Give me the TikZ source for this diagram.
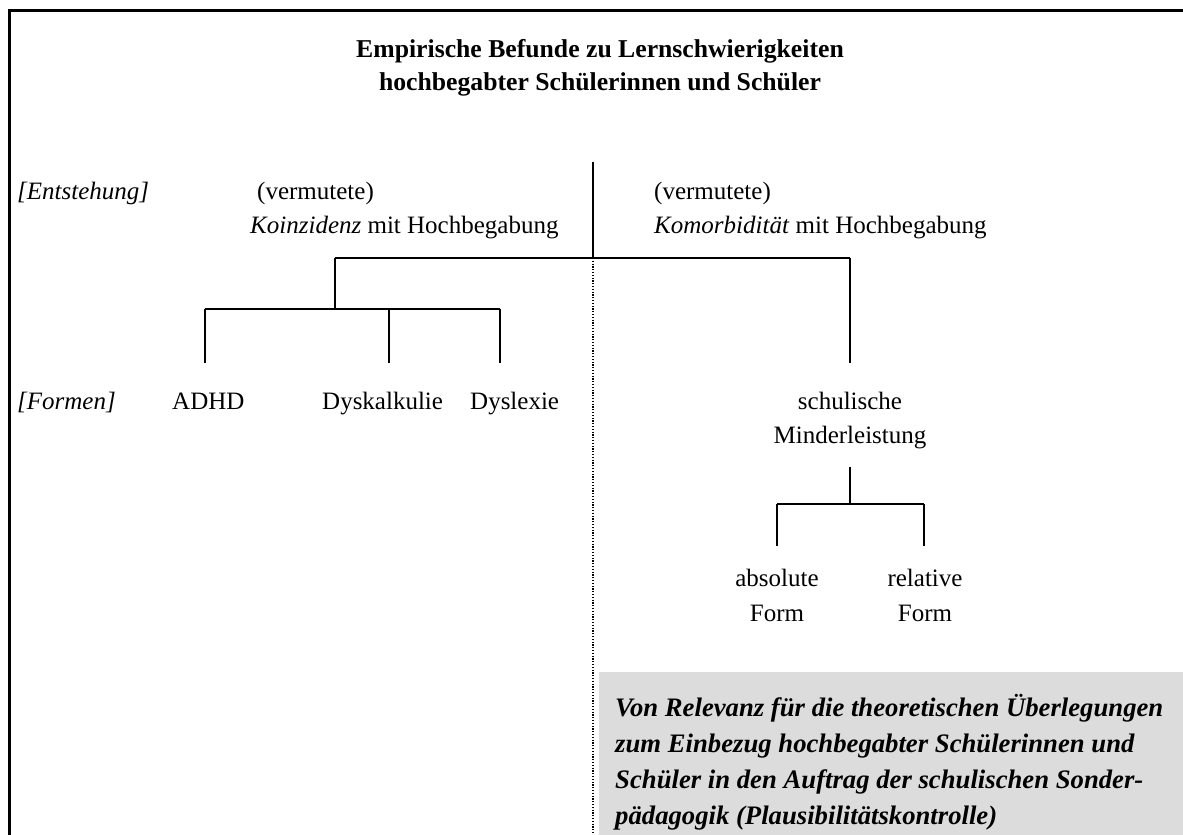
\documentclass[tikz,border=0pt]{standalone}
\usepackage{fontspec}
\setmainfont{Liberation Serif}
\definecolor{boxgray}{HTML}{DCDCDC}
\begin{document}
\begin{tikzpicture}[x=1pt,y=-1pt,
  txt/.style={inner sep=0pt, anchor=base west, font=\fontsize{25}{35}\selectfont},
  ctxt/.style={txt, anchor=base},
  ttxt/.style={ctxt, font=\fontsize{25.7}{33}\selectfont\bfseries},
  btxt/.style={txt, font=\fontsize{26.7}{36}\selectfont\bfseries\itshape},
  tree/.style={line width=1.5pt},
  frame/.style={line width=3pt},
  sep/.style={line width=1.2pt, dash pattern=on 1.2pt off 1.6pt}]
\useasboundingbox (0,0) rectangle (1183,835);

% highlighted conclusion box
\fill[boxgray] (599,672) rectangle (1183,835);

% outer frame (open towards right and bottom)
\draw[frame] (9,835) -- (9,10) -- (1183,10);

% title
\node[ttxt] (title1) at (600,57) {Empirische Befunde zu Lernschwierigkeiten};
\node[ttxt] (title2) at (600,90) {hochbegabter Schülerinnen und Schüler};

% row labels
\node[txt] (lEnt) at (17,199) {\itshape [Entstehung]};
\node[txt] (lFor) at (17,409) {\itshape [Formen]};

% origins
\node[txt] (verm1) at (257,199) {(vermutete)};
\node[txt] (koinz) at (250,233) {\textit{Koinzidenz} mit Hochbegabung};
\node[txt] (verm2) at (654,199) {(vermutete)};
\node[txt] (komor) at (654,233) {\textit{Komorbidität} mit Hochbegabung};

% forms
\node[txt] (adhd) at (172,409) {ADHD};
\node[txt] (dyska) at (322,409) {Dyskalkulie};
\node[txt] (dysle) at (470,409) {Dyslexie};
\node[ctxt] (schul) at (850,409) {schulische};
\node[ctxt] (minder) at (850,443) {Minderleistung};
\node[ctxt] (abs) at (777,586) {absolute};
\node[ctxt] (absF) at (777,621) {Form};
\node[ctxt] (rel) at (925,586) {relative};
\node[ctxt] (relF) at (925,621) {Form};

% conclusion text
\node[btxt] (c1) at (615,716) {Von Relevanz für die theoretischen Überlegungen};
\node[btxt] (c2) at (615,752) {zum Einbezug hochbegabter Schülerinnen und};
\node[btxt] (c3) at (615,788) {Schüler in den Auftrag der schulischen Sonder-};
\node[btxt] (c4) at (615,824) {pädagogik (Plausibilitätskontrolle)};

% junction points of the tree
\coordinate (divTop) at (593,162);
\coordinate (divMid) at (593,258);
\coordinate (divBot) at (593,835);
\coordinate (hL) at (335,258);
\coordinate (hR) at (850,258);
\coordinate (lJ) at (335,309);
\coordinate (lA) at (205,309);
\coordinate (lB) at (389,309);
\coordinate (lC) at (500,309);
\coordinate (lAe) at (205,363);
\coordinate (lBe) at (389,363);
\coordinate (lCe) at (500,363);
\coordinate (rE) at (850,363);
\coordinate (mTop) at (850,467);
\coordinate (mJ) at (850,504);
\coordinate (mA) at (777,504);
\coordinate (mB) at (924,504);
\coordinate (mAe) at (777,546);
\coordinate (mBe) at (924,546);

% divider between the two origins
\draw[tree] (divTop) -- (divMid);
\draw[sep] (divMid) -- (divBot);

% main branch
\draw[tree] (hL) -- (hR);
\draw[tree] (hL) -- (lJ);
\draw[tree] (hR) -- (rE);
\draw[tree] (lA) -- (lC);
\draw[tree] (lA) -- (lAe);
\draw[tree] (lB) -- (lBe);
\draw[tree] (lC) -- (lCe);

% under-achievement branch
\draw[tree] (mTop) -- (mJ);
\draw[tree] (mA) -- (mB);
\draw[tree] (mA) -- (mAe);
\draw[tree] (mB) -- (mBe);
\end{tikzpicture}
\end{document}
